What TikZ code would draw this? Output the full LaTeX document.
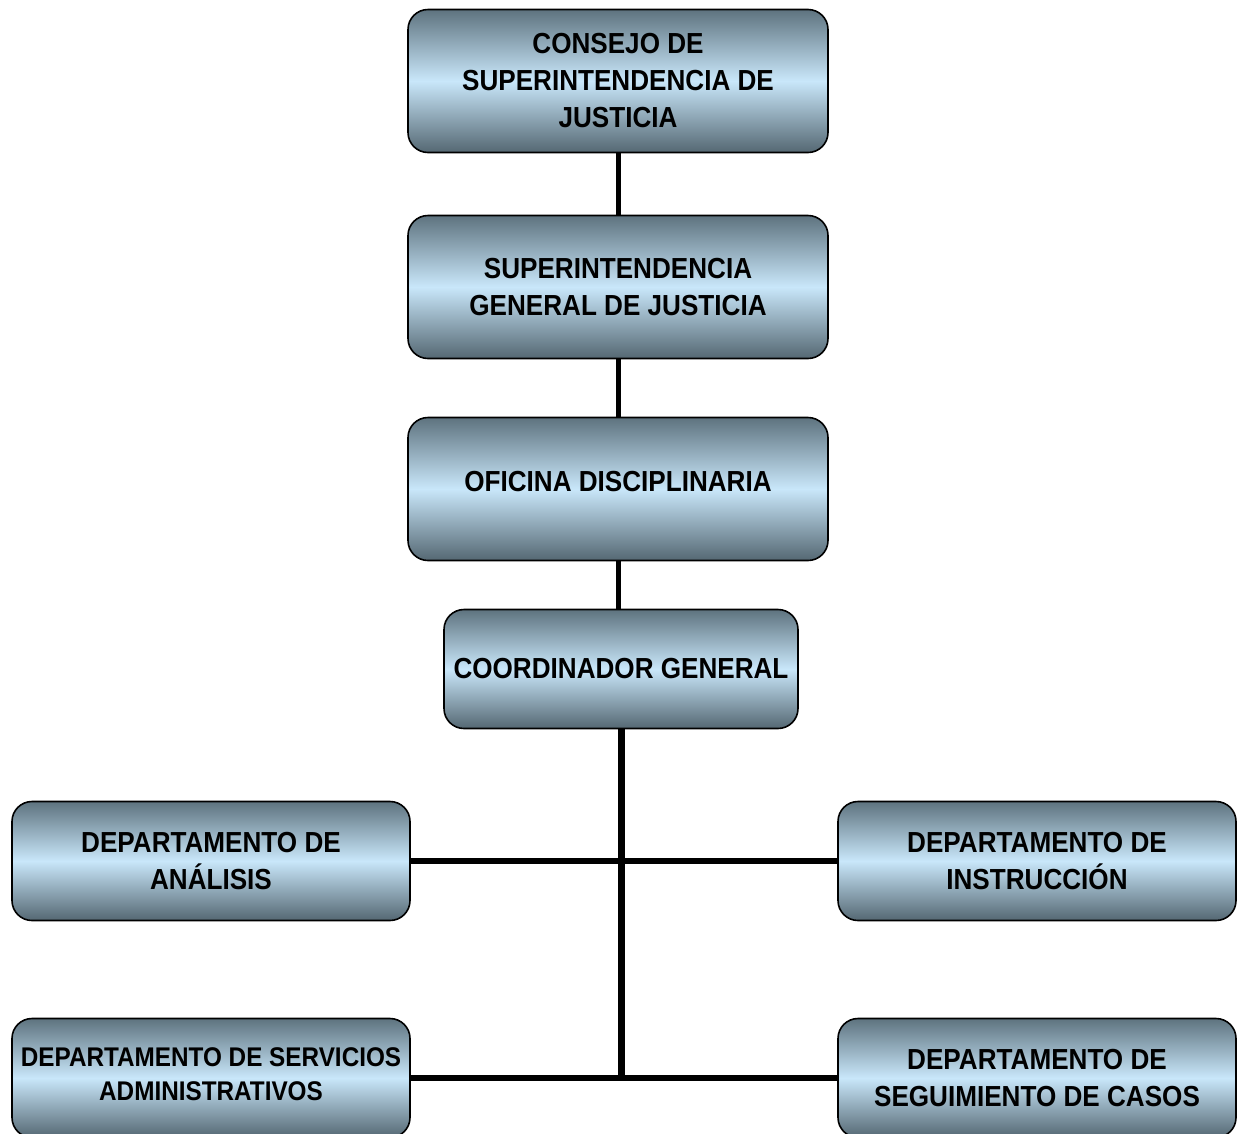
\documentclass[tikz,border=0pt]{standalone}
\usepackage{fontspec}
\setmainfont{Liberation Sans}[FakeStretch=0.9]
\usetikzlibrary{backgrounds}
\definecolor{boxdark}{HTML}{5E737F}
\definecolor{boxlight}{HTML}{C9E7FA}
\tikzset{
  orgbox/.style={draw=black,line width=1.6pt,rounded corners=20pt,top color=boxdark,bottom color=boxdark!90!black,middle color=boxlight,align=center,font=\fontsize{29}{37}\selectfont\bfseries,inner sep=0pt},
  midbox/.style={orgbox,minimum width=420pt,minimum height=143pt},
  deptbox/.style={orgbox,minimum width=398pt,minimum height=119pt},
  link/.style={line width=5pt,black},
  trunk/.style={line width=7pt,black}
}
\begin{document}
\begin{tikzpicture}[x=1pt,y=1pt]
  \useasboundingbox (0,0) rectangle (1238,-1133);
  \clip (0,0) rectangle (1238,-1133);

  \node[midbox] (consejo) at (618,-81) {CONSEJO DE\\SUPERINTENDENCIA DE\\JUSTICIA};
  \node[midbox] (superint) at (618,-287) {SUPERINTENDENCIA\\GENERAL DE JUSTICIA};
  \node[midbox,text depth=16pt] (oficina) at (618,-489) {OFICINA DISCIPLINARIA};
  \node[orgbox,minimum width=354pt,minimum height=119pt] (coord) at (621,-669) {COORDINADOR GENERAL};

  \node[deptbox] (analisis) at (211,-861) {DEPARTAMENTO DE\\ANÁLISIS};
  \node[deptbox] (instruc) at (1037,-861) {DEPARTAMENTO DE\\INSTRUCCIÓN};
  \node[deptbox,font=\fontsize{27}{34}\selectfont\bfseries,text depth=8pt] (servicios) at (211,-1078) {DEPARTAMENTO DE SERVICIOS\\ADMINISTRATIVOS};
  \node[deptbox] (seguim) at (1037,-1078) {DEPARTAMENTO DE\\SEGUIMIENTO DE CASOS};

  \coordinate (trunkend) at (621,-1078);

  \begin{scope}[on background layer]
    \draw[link] (consejo) -- (superint);
    \draw[link] (superint) -- (oficina);
    \draw[link] (oficina.south -| 618,0) -- (618,-610);
    \draw[trunk] (coord.south) -- (trunkend);
    \draw[link,line width=6pt] (analisis) -- (instruc);
    \draw[link,line width=6pt] (servicios) -- (seguim);
  \end{scope}
\end{tikzpicture}
\end{document}
